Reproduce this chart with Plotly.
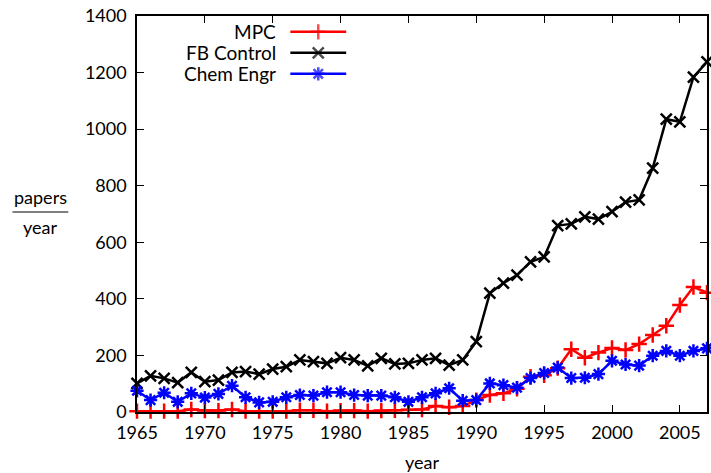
"""Papers per year: MPC, feedback control and chemical engineering."""
import plotly.graph_objects as go

years = list(range(1965, 2008))

mpc = [3, 3, 3, 3, 9, 5, 5, 9, 3, 3, 3, 3, 6, 6, 3, 5, 5, 3, 5, 6,
       8, 9, 21, 17, 21, 42, 60, 66, 82, 125, 130, 155, 222, 192, 210, 226,
       219, 240, 272, 305, 378, 442, 422]

fb_control = [101, 128, 119, 104, 140, 107, 113, 140, 143, 134, 152, 160,
              184, 178, 172, 192, 184, 163, 190, 170, 172, 184, 190, 166,
              184, 249, 420, 456, 484, 531, 548, 659, 665, 690, 682, 708,
              742, 750, 862, 1035, 1026, 1184, 1238]

chem_engr = [75, 42, 68, 36, 66, 51, 64, 93, 52, 34, 36, 52, 60, 58, 70,
             70, 60, 58, 58, 52, 36, 52, 66, 84, 40, 42, 101, 95, 86, 120,
             138, 157, 120, 121, 134, 181, 168, 164, 199, 216, 199, 216, 225]

series = [
    ("MPC", mpc, "#ff0000", "cross-thin-open"),
    ("FB Control", fb_control, "#000000", "x-thin-open"),
    ("Chem Engr", chem_engr, "#0000ff", "asterisk-open"),
]

FONT = "Lato"
FS = 18

fig = go.Figure()
for name, vals, color, symbol in series:
    fig.add_trace(go.Scatter(
        x=years, y=vals, name=name, mode="lines+markers",
        line=dict(color=color, width=2.5),
        marker=dict(symbol=symbol, size=11, color=color,
                    line=dict(color=color, width=2.5)),
        showlegend=False, cliponaxis=False,
    ))

# hand-made gnuplot style legend: text on the left, sample on the right
leg_y = [0.96, 0.907, 0.854]
for (name, vals, color, symbol), ly in zip(series, leg_y):
    fig.add_annotation(x=0.2465, y=ly, xref="paper", yref="paper",
                       text=name, showarrow=False, xanchor="right",
                       yanchor="middle", font=dict(size=19, color="black"))
    fig.add_trace(go.Scatter(
        x=[0.269, 0.318, 0.367], y=[ly, ly, ly], xaxis="x2", yaxis="y2",
        mode="lines+markers", line=dict(color=color, width=2.5),
        marker=dict(symbol=symbol, size=[0, 11, 0], color=color,
                    line=dict(color=color, width=2.5)),
        showlegend=False, hoverinfo="skip",
    ))

# y label drawn as a fraction papers / year
fig.add_annotation(x=-0.17, y=0.51, xref="paper", yref="paper", text="papers",
                   showarrow=False, xanchor="center", yanchor="bottom",
                   font=dict(size=FS))
fig.add_annotation(x=-0.17, y=0.50, xref="paper", yref="paper", text="year",
                   showarrow=False, xanchor="center", yanchor="top",
                   font=dict(size=FS))
fig.add_shape(type="line", xref="paper", yref="paper", x0=-0.2185, x1=-0.1206,
              y0=0.505, y1=0.505, line=dict(color="black", width=1.2))

axis_common = dict(showgrid=False, zeroline=False, showline=True,
                   linecolor="black", linewidth=1.5, mirror="ticks",
                   ticks="inside", ticklen=7, tickcolor="black", tickwidth=1,
                   tickfont=dict(size=FS, color="black"))

fig.update_layout(
    width=711, height=473,
    margin=dict(l=137, r=2, t=16, b=61),
    paper_bgcolor="white", plot_bgcolor="white",
    font=dict(family=FONT, color="black"),
    xaxis=dict(range=[1965, 2007], dtick=5, tick0=1965, ticklabelstandoff=4,
               title=dict(text="year", font=dict(size=FS), standoff=14),
               **axis_common),
    yaxis=dict(range=[0, 1400], dtick=200, ticklabelstandoff=5, **axis_common),
    xaxis2=dict(overlaying="x", range=[0, 1], visible=False),
    yaxis2=dict(overlaying="y", range=[0, 1], visible=False),
)

# drop the browser's default body margin so the figure sits at 0,0
fig.write_html("out.html", config={"displayModeBar": False},
               post_script="document.body.style.margin='0';")
